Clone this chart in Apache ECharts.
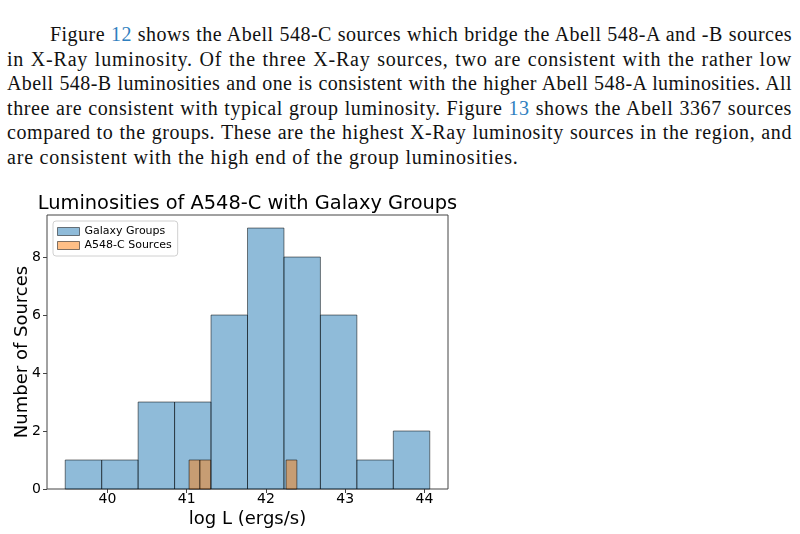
<!DOCTYPE html>
<html>
<head>
<meta charset="utf-8">
<script src="https://cdn.jsdelivr.net/npm/echarts@6/dist/echarts.min.js"></script>
<style>
  html, body { margin: 0; padding: 0; background: #fff; }
  #wrap { position: relative; width: 800px; height: 534px; overflow: hidden; }
  #chart { position: absolute; left: 0; top: 0; width: 800px; height: 534px; }
  .ln { position: absolute; font-family: "Liberation Serif", "DejaVu Serif", serif; font-size: 20px; line-height: 24px; color: #111; white-space: nowrap; }
  .j { white-space: normal; text-align: justify; text-align-last: justify; }
  .ref { color: #2f80c0; }
  #measure { position: absolute; visibility: hidden; white-space: nowrap; font-family: "Liberation Serif", "DejaVu Serif", serif; font-size: 20px; }
</style>
</head>
<body>
<div id="wrap">
  <div id="text"></div>
  <div id="chart"></div>
  <span id="measure"></span>
</div>
<script>
// ---- Paragraph text (lines as in the reference) ----
const paragraphLines = [
  'Figure <span class="ref">12</span> shows the Abell 548-C sources which bridge the Abell 548-A and -B sources',
  'in X-Ray luminosity. Of the three X-Ray sources, two are consistent with the rather low',
  'Abell 548-B luminosities and one is consistent with the higher Abell 548-A luminosities. All',
  'three are consistent with typical group luminosity. Figure <span class="ref">13</span> shows the Abell 3367 sources',
  'compared to the groups. These are the highest X-Ray luminosity sources in the region, and',
  'are consistent with the high end of the group luminosities.'
];

// ---- Chart data ----
const chartTitle = 'Luminosities of A548-C with Galaxy Groups';
const xAxisTitle = 'log L (ergs/s)';
const yAxisTitle = 'Number of Sources';
const seriesNames = ['Galaxy Groups', 'A548-C Sources'];

// Galaxy Groups histogram: bin edges and counts
const groupBinEdges = [39.467, 39.927, 40.387, 40.847, 41.307, 41.767, 42.227, 42.687, 43.147, 43.607, 44.067];
const groupCounts   = [1, 1, 3, 3, 6, 9, 8, 6, 1, 2];

// A548-C Sources histogram: bin edges and counts
const sourceBinEdges = [41.03, 41.166, 41.302, 41.438, 41.574, 41.71, 41.846, 41.982, 42.118, 42.254, 42.39];
const sourceCounts   = [1, 1, 0, 0, 0, 0, 0, 0, 0, 1];

const xTicks = [40, 41, 42, 43, 44];
const yTicks = [0, 2, 4, 6, 8];

// ---- Render paragraph ----
const textDiv = document.getElementById('text');
const meas = document.getElementById('measure');
paragraphLines.forEach((html, i) => {
  const d = document.createElement('div');
  const last = i === paragraphLines.length - 1;
  d.className = 'ln' + (last ? '' : ' j');
  d.innerHTML = html;
  const left = i === 0 ? 50 : 7;
  const target = 792 - left;
  meas.innerHTML = html;
  const natural = meas.getBoundingClientRect().width;
  const nChars = meas.textContent.length;
  let ls = 0.8;
  if (!last) ls = Math.max(0, Math.min(0.8, (target - natural - 6) / nChars));
  d.style.letterSpacing = ls.toFixed(2) + 'px';
  d.style.left = left + 'px';
  d.style.top = (22 + i * 24.5) + 'px';
  if (!last) d.style.width = target + 'px';
  textDiv.appendChild(d);
});

// ---- Build histogram data ----
function binsToData(edges, counts) {
  const out = [];
  for (let i = 0; i < counts.length; i++) {
    if (counts[i] > 0) out.push([edges[i], edges[i + 1], counts[i]]);
  }
  return out;
}

function histRender(fill) {
  return function (params, api) {
    const p0 = api.coord([api.value(0), api.value(2)]);
    const p1 = api.coord([api.value(1), 0]);
    return {
      type: 'rect',
      shape: { x: p0[0], y: p0[1], width: p1[0] - p0[0], height: p1[1] - p0[1] },
      style: { fill: fill, stroke: '#000', lineWidth: 1, opacity: 0.5 }
    };
  };
}

const dataMin = Math.min(groupBinEdges[0], sourceBinEdges[0]);
const dataMax = Math.max(groupBinEdges[groupBinEdges.length - 1], sourceBinEdges[sourceBinEdges.length - 1]);
const span = dataMax - dataMin;
const yMax = Math.max(...groupCounts, ...sourceCounts) * 1.05;

const font = 'DejaVu Sans';
const chart = echarts.init(document.getElementById('chart'), null, { renderer: 'canvas' });
chart.setOption({
  animation: false,
  backgroundColor: 'transparent',
  title: {
    text: chartTitle,
    left: 247.5,
    textAlign: 'center',
    top: 194,
    padding: 0,
    textStyle: { fontFamily: font, fontSize: 19.4, fontWeight: 'normal', color: '#000' }
  },
  legend: {
    orient: 'vertical',
    left: 53,
    top: 221,
    padding: [5, 6, 5, 4],
    itemWidth: 22,
    itemHeight: 8,
    itemGap: 3,
    backgroundColor: 'rgba(255,255,255,0.8)',
    borderColor: '#d0d0d0',
    borderWidth: 1,
    borderRadius: 3,
    textStyle: { fontFamily: font, fontSize: 11, color: '#000' },
    data: [
      { name: seriesNames[0], icon: 'rect', itemStyle: { color: 'rgba(31,119,180,0.5)', borderColor: 'rgba(0,0,0,0.5)', borderWidth: 1 } },
      { name: seriesNames[1], icon: 'rect', itemStyle: { color: 'rgba(255,127,14,0.5)', borderColor: 'rgba(0,0,0,0.5)', borderWidth: 1 } }
    ]
  },
  grid: { left: 47, right: 352, top: 215, bottom: 45, containLabel: false, outerBoundsMode: 'none', show: true, borderColor: '#444', borderWidth: 1, backgroundColor: 'transparent' },
  xAxis: {
    type: 'value',
    min: dataMin - span * 0.05,
    max: dataMax + span * 0.05,
    name: xAxisTitle,
    nameLocation: 'middle',
    nameGap: 21,
    nameMoveOverlap: false,
    nameTextStyle: { fontFamily: font, fontSize: 18, color: '#000' },
    axisLine: { show: false },
    splitLine: { show: false },
    axisTick: { show: true, length: 4, lineStyle: { color: '#444' }, customValues: xTicks },
    axisLabel: { fontFamily: font, fontSize: 14, color: '#000', margin: 3, customValues: xTicks }
  },
  yAxis: {
    type: 'value',
    min: 0,
    max: yMax,
    name: yAxisTitle,
    nameLocation: 'middle',
    nameGap: 16,
    nameMoveOverlap: false,
    nameRotate: 90,
    nameTextStyle: { fontFamily: font, fontSize: 18, color: '#000' },
    axisLine: { show: false },
    splitLine: { show: false },
    axisTick: { show: true, length: 4, lineStyle: { color: '#444' }, customValues: yTicks },
    axisLabel: { fontFamily: font, fontSize: 14, color: '#000', margin: 6, customValues: yTicks }
  },
  series: [
    {
      name: seriesNames[0],
      type: 'custom',
      renderItem: histRender('#1f77b4'),
      itemStyle: { color: 'rgba(31,119,180,0.5)' },
      encode: { x: [0, 1], y: 2 },
      data: binsToData(groupBinEdges, groupCounts),
      z: 2
    },
    {
      name: seriesNames[1],
      type: 'custom',
      renderItem: histRender('#ff7f0e'),
      itemStyle: { color: 'rgba(255,127,14,0.5)' },
      encode: { x: [0, 1], y: 2 },
      data: binsToData(sourceBinEdges, sourceCounts),
      z: 3
    }
  ]
});
</script>
</body>
</html>
